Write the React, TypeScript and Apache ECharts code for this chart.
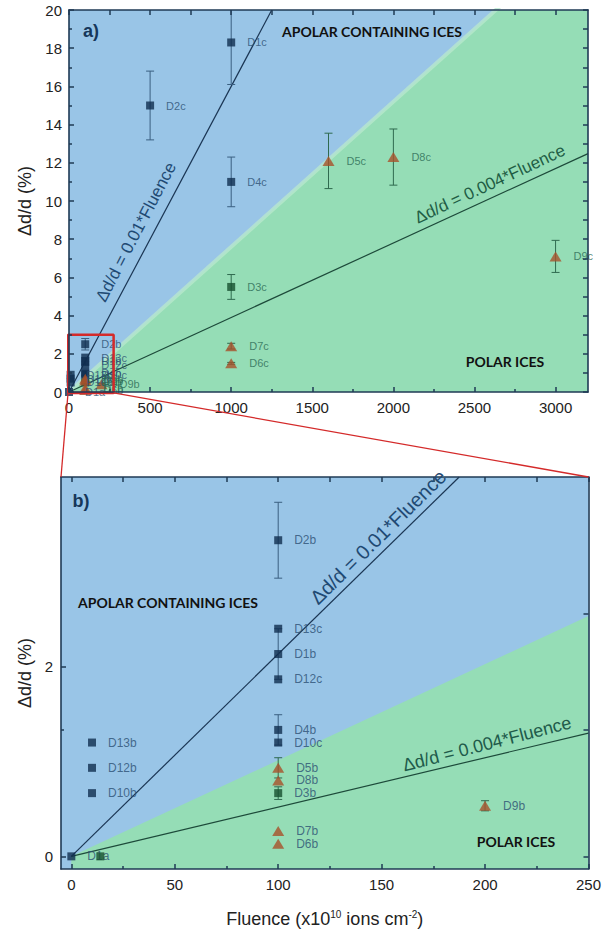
import React, { useEffect, useRef } from "react";
import * as echarts from "echarts";

// ---------- DATA ----------
// Panel a (large fluences)
const A_SQ_NAMES = ["D1c", "D2c", "D4c", "D3c"];
const A_SQ_X = [1000, 500, 1000, 1000];
const A_SQ_Y = [18.3, 15.0, 11.0, 5.5];
const A_SQ_ERR = [2.2, 1.8, 1.3, 0.65];

const A_TRI_NAMES = ["D7c", "D6c", "D5c", "D8c", "D9c"];
const A_TRI_X = [1000, 1000, 1600, 2000, 3000];
const A_TRI_Y = [2.4, 1.5, 12.1, 12.3, 7.1];
const A_TRI_ERR = [0.15, 0.05, 1.45, 1.47, 0.84];

// Panel b (small fluences)
const B_SQ_NAMES = ["D1a", "D13b", "D12b", "D10b", "D2b", "D13c", "D1b", "D12c", "D4b", "D10c", "D3b"];
const B_SQ_X = [0, 10, 10, 10, 100, 100, 100, 100, 100, 100, 100];
const B_SQ_Y = [0, 0.9, 0.7, 0.5, 2.5, 1.8, 1.6, 1.4, 1.0, 0.9, 0.5];
const B_SQ_ERR = [0, 0, 0, 0, 0.3, 0, 0.2, 0, 0.12, 0, 0.05];

const B_EXTRA_SQ_X = [14];
const B_EXTRA_SQ_Y = [0];

const B_TRI_NAMES = ["D5b", "D8b", "D7b", "D6b", "D9b"];
const B_TRI_X = [100, 100, 100, 100, 200];
const B_TRI_Y = [0.7, 0.6, 0.2, 0.1, 0.4];
const B_TRI_ERR = [0.08, 0, 0, 0, 0.04];

const STEEP_SLOPE = 0.016;
const SHALLOW_SLOPE = 0.0039;
const BOUNDARY_SLOPE = 0.0076;

// Axes
const A_X_MIN = 0, A_X_MAX = 3200, A_Y_MIN = 0, A_Y_MAX = 20;
const A_X_MAJOR = [0, 500, 1000, 1500, 2000, 2500, 3000];
const A_X_MINOR = [250, 750, 1250, 1750, 2250, 2750];
const A_Y_MAJOR = [0, 2, 4, 6, 8, 10, 12, 14, 16, 18, 20];
const A_Y_MINOR = [1, 3, 5, 7, 9, 11, 13, 15, 17, 19];

const B_X_MIN = -5, B_X_MAX = 250, B_Y_MIN = -0.1, B_Y_MAX = 3.0;
const B_X_MAJOR = [0, 50, 100, 150, 200, 250];
const B_X_MINOR = [25, 75, 125, 175, 225];
const B_Y_LABEL_POS = [0, 1.5];
const B_Y_LABELS = ["0", "2"];
const B_Y_LEFT_MINOR = [1];
const B_Y_RIGHT_TICKS = [0, 1, 1.92];

// zoom box drawn in panel a
const BOX_X = [-6, 275];
const BOX_Y = [-0.05, 3.0];

// ---------- STYLE ----------
const BLUE_BG = "#99c5e7";
const GREEN_BG = "#95ddb6";
const AXIS_COLOR = "#1f3a55";
const SQ_BLUE = "#0f2d4f";
const SQ_GREEN = "#17502f";
const TRI_COLOR = "#a8512a";
const LBL_BLUE = "#2b4f73";
const LBL_GREEN = "#2b6a55";
const ERR_BLUE = "#3a5f80";
const ERR_GREEN = "#2f6a4f";
const STEEP_COLOR = "#1a3553";
const SHALLOW_COLOR = "#1d4a3a";
const RED = "#d42a2a";
const FONT = "Liberation Sans";
const FONT_STACK = '"Liberation Sans", Arial, sans-serif';

const isGreen = (x: number, y: number) => y < BOUNDARY_SLOPE * x;

function axis(kind: "x" | "y", o: any) {
  return {
    type: "value",
    gridIndex: o.grid,
    position: o.position,
    min: o.min,
    max: o.max,
    axisLine: { show: o.line !== false, onZero: false, lineStyle: { color: AXIS_COLOR, width: 1.6 } },
    axisTick: {
      show: true,
      inside: true,
      length: o.tickLen ?? 5,
      customValues: o.ticks,
      lineStyle: { color: AXIS_COLOR, width: 1.5 },
    },
    minorTick: { show: false },
    splitLine: { show: false },
    axisLabel: o.labels
      ? {
          show: true,
          customValues: o.labels,
          formatter: o.formatter ?? ((v: number) => String(v)),
          color: "#222",
          fontSize: 15,
          fontFamily: FONT_STACK,
          margin: o.margin ?? 8,
        }
      : { show: false },
    name: o.name,
    nameLocation: "middle",
    nameGap: o.nameGap,
    nameTextStyle: o.nameStyle,
    z: 10,
  };
}

function pts(names: string[], xs: number[], ys: number[], tri: boolean, panelA: boolean) {
  return names.map((n, i) => {
    const g = isGreen(xs[i], ys[i]);
    return {
      name: n,
      value: [xs[i], ys[i]],
      itemStyle: { color: tri ? TRI_COLOR : g ? SQ_GREEN : SQ_BLUE },
      label: { color: panelA && g ? LBL_GREEN : LBL_BLUE },
    };
  });
}

function errData(xs: number[], ys: number[], es: number[]) {
  const out: number[][] = [];
  xs.forEach((x, i) => {
    if (es[i] > 0) out.push([x, ys[i], es[i], isGreen(x, ys[i]) ? 1 : 0]);
  });
  return out;
}

function errSeries(xi: number, yi: number, data: number[][]) {
  return {
    type: "custom",
    xAxisIndex: xi,
    yAxisIndex: yi,
    clip: true,
    z: 3,
    silent: true,
    data,
    renderItem: (params: any, api: any) => {
      const x = api.value(0), y = api.value(1), e = api.value(2), g = api.value(3);
      const t = api.coord([x, y + e]);
      const b = api.coord([x, y - e]);
      const c = g ? ERR_GREEN : ERR_BLUE;
      const st = { stroke: c, lineWidth: 1 };
      return {
        type: "group",
        children: [
          { type: "line", shape: { x1: t[0], y1: t[1], x2: b[0], y2: b[1] }, style: st },
          { type: "line", shape: { x1: t[0] - 4, y1: t[1], x2: t[0] + 4, y2: t[1] }, style: st },
          { type: "line", shape: { x1: b[0] - 4, y1: b[1], x2: b[0] + 4, y2: b[1] }, style: st },
        ],
      };
    },
  };
}

function labelCfg(size: number) {
  return {
    show: true,
    position: "right",
    distance: 12,
    formatter: "{b}",
    fontSize: size,
    fontFamily: FONT_STACK,
  };
}

function scatter(xi: number, yi: number, data: any[], tri: boolean, labelSize: number, z = 4) {
  return {
    type: "scatter",
    xAxisIndex: xi,
    yAxisIndex: yi,
    symbol: tri ? "triangle" : "rect",
    symbolSize: tri ? [12, 10] : 8,
    data,
    z,
    label: labelSize > 0 ? labelCfg(labelSize) : { show: false },
    silent: true,
  };
}

function lineSeries(xi: number, yi: number, data: number[][], color: string, width: number, z: number, area?: string) {
  return {
    type: "line",
    xAxisIndex: xi,
    yAxisIndex: yi,
    data,
    symbol: "none",
    clip: true,
    z,
    silent: true,
    lineStyle: { color, width },
    areaStyle: area ? { color: area, opacity: 1, origin: "start" } : undefined,
  };
}

function buildOption() {
  const axisNameStyle = { fontSize: 18, fontFamily: FONT_STACK, color: "#222" };
  const xAxis = [
    // panel a
    axis("x", { grid: 0, position: "bottom", min: A_X_MIN, max: A_X_MAX, ticks: A_X_MAJOR, labels: A_X_MAJOR, tickLen: 5, margin: 8 }),
    axis("x", { grid: 0, position: "bottom", min: A_X_MIN, max: A_X_MAX, ticks: A_X_MINOR, tickLen: 3, line: false }),
    axis("x", { grid: 0, position: "top", min: A_X_MIN, max: A_X_MAX, ticks: [...A_X_MAJOR, ...A_X_MINOR], tickLen: 5 }),
    // panel b
    axis("x", {
      grid: 1, position: "bottom", min: B_X_MIN, max: B_X_MAX, ticks: B_X_MAJOR, labels: B_X_MAJOR, tickLen: 5, margin: 8,
      name: "{a|Fluence (x10}{s|10}{a| ions cm}{s|-2}{a|)}",
      nameGap: 40,
      nameStyle: {
        rich: {
          a: { fontSize: 18, fontFamily: FONT_STACK, color: "#222" },
          s: { fontSize: 10, fontFamily: FONT_STACK, color: "#222", padding: [0, 0, 10, 0] },
        },
      },
    }),
    axis("x", { grid: 1, position: "bottom", min: B_X_MIN, max: B_X_MAX, ticks: B_X_MINOR, tickLen: 3, line: false }),
    axis("x", { grid: 1, position: "top", min: B_X_MIN, max: B_X_MAX, ticks: [...B_X_MAJOR, ...B_X_MINOR], tickLen: 5 }),
  ];
  const yAxis = [
    // panel a
    axis("y", { grid: 0, position: "left", min: A_Y_MIN, max: A_Y_MAX, ticks: A_Y_MAJOR, labels: A_Y_MAJOR, tickLen: 5, margin: 7, name: "Δd/d (%)", nameGap: 30, nameStyle: axisNameStyle }),
    axis("y", { grid: 0, position: "left", min: A_Y_MIN, max: A_Y_MAX, ticks: A_Y_MINOR, tickLen: 3, line: false }),
    axis("y", { grid: 0, position: "right", min: A_Y_MIN, max: A_Y_MAX, ticks: [...A_Y_MAJOR, ...A_Y_MINOR], tickLen: 5 }),
    // panel b
    axis("y", {
      grid: 1, position: "left", min: B_Y_MIN, max: B_Y_MAX, ticks: B_Y_LABEL_POS, labels: B_Y_LABEL_POS, tickLen: 5, margin: 8,
      formatter: (v: number) => B_Y_LABELS[B_Y_LABEL_POS.indexOf(v)] ?? "",
      name: "Δd/d (%)", nameGap: 23, nameStyle: axisNameStyle,
    }),
    axis("y", { grid: 1, position: "left", min: B_Y_MIN, max: B_Y_MAX, ticks: B_Y_LEFT_MINOR, tickLen: 3, line: false }),
    axis("y", { grid: 1, position: "right", min: B_Y_MIN, max: B_Y_MAX, ticks: B_Y_RIGHT_TICKS, tickLen: 5 }),
  ];

  const series: any[] = [
    // ----- panel a -----
    lineSeries(0, 0, [[0, 0], [A_X_MAX, BOUNDARY_SLOPE * A_X_MAX]], GREEN_BG, 0, 1, GREEN_BG),
    lineSeries(0, 0, [[0, 0], [A_X_MAX, BOUNDARY_SLOPE * A_X_MAX]], "rgba(185,232,206,0.75)", 4, 1),
    lineSeries(0, 0, [[0, 0], [A_Y_MAX / STEEP_SLOPE, A_Y_MAX]], STEEP_COLOR, 1.2, 2),
    lineSeries(0, 0, [[0, 0], [A_X_MAX, SHALLOW_SLOPE * A_X_MAX]], SHALLOW_COLOR, 1.2, 2),
    errSeries(0, 0, [
      ...errData(A_SQ_X, A_SQ_Y, A_SQ_ERR),
      ...errData(A_TRI_X, A_TRI_Y, A_TRI_ERR),
      ...errData(B_SQ_X, B_SQ_Y, B_SQ_ERR),
      ...errData(B_TRI_X, B_TRI_Y, B_TRI_ERR),
    ]),
    scatter(0, 0, pts(A_SQ_NAMES, A_SQ_X, A_SQ_Y, false, true), false, 11),
    scatter(0, 0, pts(A_TRI_NAMES, A_TRI_X, A_TRI_Y, true, true), true, 11),
    scatter(0, 0, pts(B_SQ_NAMES, B_SQ_X, B_SQ_Y, false, true), false, 11),
    scatter(0, 0, pts(B_TRI_NAMES, B_TRI_X, B_TRI_Y, true, true), true, 11),
    {
      type: "line",
      xAxisIndex: 0,
      yAxisIndex: 0,
      clip: false,
      symbol: "none",
      silent: true,
      z: 8,
      lineStyle: { color: RED, width: 2.5 },
      data: [
        [BOX_X[0], BOX_Y[0]], [BOX_X[1], BOX_Y[0]], [BOX_X[1], BOX_Y[1]], [BOX_X[0], BOX_Y[1]], [BOX_X[0], BOX_Y[0]],
      ],
    },
    // ----- panel b -----
    lineSeries(3, 3, [[0, 0], [B_X_MAX, BOUNDARY_SLOPE * B_X_MAX]], GREEN_BG, 0, 1, GREEN_BG),
    lineSeries(3, 3, [[0, 0], [B_Y_MAX / STEEP_SLOPE, B_Y_MAX]], STEEP_COLOR, 1.2, 2),
    lineSeries(3, 3, [[0, 0], [B_X_MAX, SHALLOW_SLOPE * B_X_MAX]], SHALLOW_COLOR, 1.2, 2),
    errSeries(3, 3, [...errData(B_SQ_X, B_SQ_Y, B_SQ_ERR), ...errData(B_TRI_X, B_TRI_Y, B_TRI_ERR)]),
    scatter(3, 3, pts(B_SQ_NAMES, B_SQ_X, B_SQ_Y, false, false), false, 12),
    scatter(3, 3, pts(B_TRI_NAMES, B_TRI_X, B_TRI_Y, true, false), true, 12),
    scatter(
      3, 3,
      B_EXTRA_SQ_X.map((x, i) => ({ value: [x, B_EXTRA_SQ_Y[i]], itemStyle: { color: SQ_GREEN } })),
      false, 0, 6
    ),
  ];

  return {
    animation: false,
    backgroundColor: "#ffffff",
    grid: [
      { left: 69, top: 10, right: 16, bottom: 540, show: true, backgroundColor: BLUE_BG, borderWidth: 0 },
      { left: 61, top: 477, right: 11, bottom: 63, show: true, backgroundColor: BLUE_BG, borderWidth: 0 },
    ],
    xAxis,
    yAxis,
    series,
  };
}

function buildGraphic(chart: any) {
  const bl = chart.convertToPixel({ xAxisIndex: 0, yAxisIndex: 0 }, [BOX_X[0], BOX_Y[0]]);
  const br = chart.convertToPixel({ xAxisIndex: 0, yAxisIndex: 0 }, [BOX_X[1], BOX_Y[0]]);
  const tl = chart.convertToPixel({ xAxisIndex: 3, yAxisIndex: 3 }, [B_X_MIN, B_Y_MAX]);
  const tr = chart.convertToPixel({ xAxisIndex: 3, yAxisIndex: 3 }, [B_X_MAX, B_Y_MAX]);
  const deg = Math.PI / 180;
  const txt = (id: string, x: number, y: number, text: string, font: string, fill: string, rot = 0) => ({
    id,
    type: "text",
    x,
    y,
    rotation: rot * deg,
    z: 20,
    silent: true,
    style: { text, font, fill, align: "center", verticalAlign: "middle" },
  });
  const bold = 'bold 14px Lato, "Liberation Sans"';
  return [
    { id: "c1", type: "line", z: 20, silent: true, shape: { x1: bl[0], y1: bl[1], x2: tl[0], y2: tl[1] }, style: { stroke: RED, lineWidth: 1.3 } },
    { id: "c2", type: "line", z: 20, silent: true, shape: { x1: br[0], y1: br[1], x2: tr[0], y2: tr[1] }, style: { stroke: RED, lineWidth: 1.3 } },
    txt("ta", 91, 31, "a)", `bold 18px "${FONT}"`, "#16375a"),
    txt("tb", 81, 501, "b)", `bold 18px "${FONT}"`, "#16375a"),
    txt("apa", 372, 31, "APOLAR CONTAINING ICES", bold, "#111"),
    txt("apb", 168, 602, "APOLAR CONTAINING ICES", bold, "#111"),
    txt("pa", 505, 361, "POLAR ICES", bold, "#111"),
    txt("pb", 516, 841, "POLAR ICES", bold, "#111"),
    txt("sa", 136, 232, "Δd/d = 0.01*Fluence", `17px "${FONT}"`, "#1f4a73", 62.5),
    txt("ha", 490, 184, "Δd/d = 0.004*Fluence", `17px "${FONT}"`, "#1f5d45", 25),
    txt("sb", 378, 537, "Δd/d = 0.01*Fluence", `20px "${FONT}"`, "#1f4a73", 44.5),
    txt("hb", 487, 744, "Δd/d = 0.004*Fluence", `18px "${FONT}"`, "#205a4a", 14.5),
  ];
}

export default function App() {
  const ref = useRef<HTMLDivElement>(null);
  useEffect(() => {
    if (!ref.current) return;
    const chart = echarts.init(ref.current, null, { renderer: "svg" });
    chart.setOption(buildOption() as any);
    chart.setOption({ graphic: buildGraphic(chart) } as any);
    return () => chart.dispose();
  }, []);
  return <div ref={ref} style={{ position: "absolute", left: 0, top: 0, width: 604, height: 932 }} />;
}
